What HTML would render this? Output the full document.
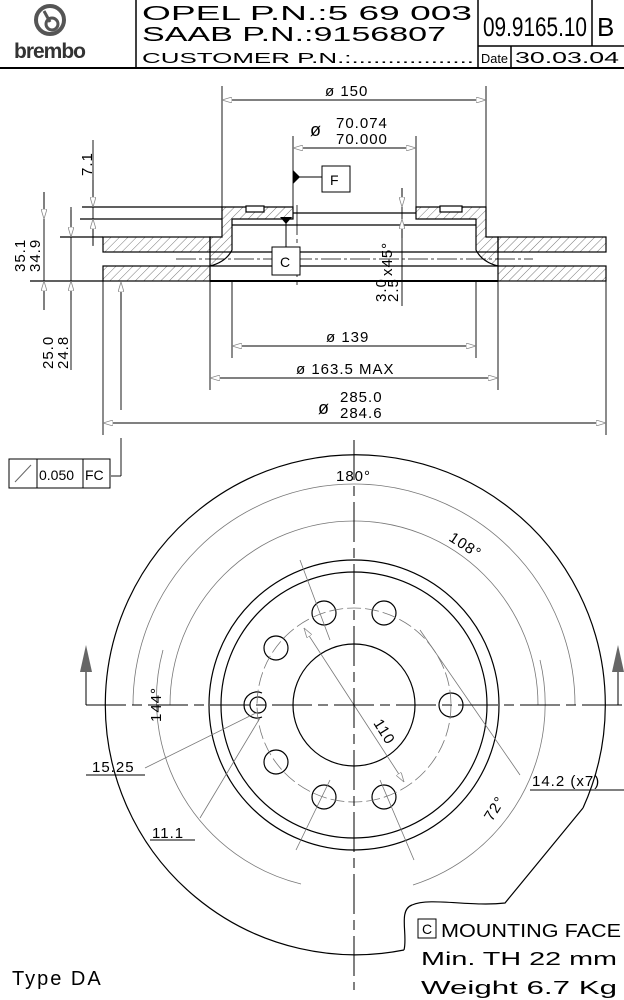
<!DOCTYPE html>
<html><head><meta charset="utf-8">
<style>
html,body{margin:0;padding:0;background:#fff;}
svg{display:block;font-family:"Liberation Sans",sans-serif;}
</style></head>
<body>
<svg width="624" height="1000" viewBox="0 0 624 1000" xmlns="http://www.w3.org/2000/svg">
<defs>
<pattern id="h" width="6" height="6" patternUnits="userSpaceOnUse" patternTransform="rotate(45)">
<line x1="0" y1="0" x2="0" y2="6" stroke="#555" stroke-width="0.8"/>
</pattern>
<marker id="a" viewBox="0 0 10 6" refX="10" refY="3" markerWidth="10" markerHeight="6" orient="auto-start-reverse" markerUnits="userSpaceOnUse">
<path d="M0,0 L10,3 L0,6 Z" fill="#fff" stroke="#888" stroke-width="0.8"/>
</marker>
</defs>

<!-- HEADER -->
<g stroke="#000" stroke-width="1.5" fill="none">
<line x1="0" y1="68" x2="624" y2="68" stroke-width="2"/>
<line x1="136" y1="0" x2="136" y2="68"/>
<line x1="478" y1="0" x2="478" y2="68"/>
<line x1="592" y1="0" x2="592" y2="46"/>
<line x1="478" y1="46" x2="624" y2="46"/>
<line x1="511" y1="46" x2="511" y2="68"/>
</g>
<g>
<circle cx="50" cy="20" r="14" fill="none" stroke="#555" stroke-width="4"/>
<circle cx="52" cy="24" r="6" fill="none" stroke="#555" stroke-width="3"/>
<line x1="44" y1="11" x2="50" y2="22" stroke="#555" stroke-width="3"/>
<text x="14" y="58" font-size="21" font-weight="bold" fill="#333" letter-spacing="-1">brembo</text>
</g>
<g font-size="20" fill="#000">
<text x="142" y="20" textLength="330" lengthAdjust="spacingAndGlyphs">OPEL P.N.:5 69 003</text>
<text x="142" y="41" textLength="304" lengthAdjust="spacingAndGlyphs">SAAB P.N.:9156807</text>
</g>
<text x="142" y="63" font-size="15" textLength="332" lengthAdjust="spacingAndGlyphs">CUSTOMER P.N.:.................</text>
<text x="483" y="36" font-size="27" textLength="104" lengthAdjust="spacingAndGlyphs">09.9165.10</text>
<text x="597" y="36" font-size="26">B</text>
<text x="481" y="63" font-size="13" textLength="27" lengthAdjust="spacingAndGlyphs">Date</text>
<text x="515" y="63" font-size="16" textLength="104" lengthAdjust="spacingAndGlyphs">30.03.04</text>

<!-- SIDE VIEW -->
<g stroke="#000" stroke-width="1.2" fill="url(#h)">
<rect x="103" y="237" width="107" height="15"/>
<rect x="103" y="266" width="107" height="15"/>
<rect x="498" y="237" width="108" height="15"/>
<rect x="498" y="266" width="108" height="15"/>
<path d="M222,207 L293,207 L293,219 L232,219 L232,250 Q226,262 210,266 L210,237 L222,237 Z"/>
<path d="M416,207 L486,207 L486,237 L498,237 L498,266 Q482,262 476,250 L476,219 L416,219 Z"/>
</g>
<g stroke="#000" stroke-width="1.2" fill="none">
<line x1="210" y1="281" x2="498" y2="281" stroke-width="2"/>
<line x1="176" y1="259" x2="533" y2="259" stroke-width="0.8" stroke-dasharray="20,3,3,3"/>
<line x1="210" y1="252" x2="498" y2="252"/>
<line x1="210" y1="266" x2="498" y2="266"/>
<line x1="293" y1="213" x2="416" y2="213"/>
<line x1="232" y1="225" x2="476" y2="225"/>
<line x1="82" y1="207" x2="222" y2="207"/>
<line x1="80" y1="219" x2="222" y2="219"/>
<line x1="60" y1="237" x2="103" y2="237"/>
<line x1="30" y1="281" x2="103" y2="281"/>
<rect x="246" y="206" width="18" height="6" fill="#fff"/>
<rect x="440" y="206" width="22" height="6" fill="#fff"/>
<line x1="297" y1="205" x2="297" y2="285" stroke-dasharray="30,4,4,4" stroke-width="0.8"/>
</g>
<!-- extension & dim lines -->
<g stroke="#000" stroke-width="0.9" fill="none">
<line x1="222" y1="86" x2="222" y2="207"/>
<line x1="486" y1="86" x2="486" y2="207"/>
<line x1="222" y1="100" x2="486" y2="100" marker-start="url(#a)" marker-end="url(#a)"/>
<line x1="293" y1="136" x2="293" y2="207"/>
<line x1="416" y1="136" x2="416" y2="207"/>
<line x1="293" y1="148" x2="416" y2="148" marker-start="url(#a)" marker-end="url(#a)"/>
<line x1="232" y1="281" x2="232" y2="358"/>
<line x1="476" y1="281" x2="476" y2="358"/>
<line x1="232" y1="346" x2="476" y2="346" marker-start="url(#a)" marker-end="url(#a)"/>
<line x1="210" y1="281" x2="210" y2="390"/>
<line x1="498" y1="281" x2="498" y2="390"/>
<line x1="210" y1="378" x2="498" y2="378" marker-start="url(#a)" marker-end="url(#a)"/>
<line x1="103" y1="281" x2="103" y2="435"/>
<line x1="606" y1="281" x2="606" y2="435"/>
<line x1="103" y1="423" x2="606" y2="423" marker-start="url(#a)" marker-end="url(#a)"/>
<line x1="93" y1="140" x2="93" y2="246"/>
<line x1="93" y1="180" x2="93" y2="207" marker-end="url(#a)"/>
<line x1="93" y1="245" x2="93" y2="219" marker-end="url(#a)"/>
<line x1="44" y1="192" x2="44" y2="310"/>
<line x1="44" y1="192" x2="44" y2="219" marker-end="url(#a)"/>
<line x1="44" y1="310" x2="44" y2="281" marker-end="url(#a)"/>
<line x1="71" y1="207" x2="71" y2="370"/>
<line x1="71" y1="210" x2="71" y2="237" marker-end="url(#a)"/>
<line x1="71" y1="300" x2="71" y2="281" marker-end="url(#a)"/>
<line x1="121" y1="284" x2="121" y2="410"/>
<line x1="121" y1="310" x2="121" y2="282" marker-end="url(#a)"/>
<line x1="121" y1="438" x2="121" y2="476"/>
<line x1="111" y1="476" x2="121" y2="476"/>
<line x1="402" y1="188" x2="402" y2="306"/>
<line x1="402" y1="188" x2="402" y2="207" marker-end="url(#a)"/>
<line x1="402" y1="238" x2="402" y2="219" marker-end="url(#a)"/>
</g>
<!-- F and C datums -->
<path d="M293,170 L300,177 L293,184 Z" fill="#000"/>
<line x1="293" y1="177" x2="322" y2="177" stroke="#000"/>
<rect x="322" y="166" width="28" height="26" fill="#fff" stroke="#000"/>
<text x="330" y="185" font-size="14">F</text>
<path d="M280,217 L292,217 L286,224 Z" fill="#000"/>
<line x1="286" y1="222" x2="286" y2="247" stroke="#000"/>
<rect x="272" y="247" width="28" height="28" fill="#fff" stroke="#000"/>
<text x="280" y="267" font-size="14">C</text>

<g font-size="15" fill="#000" letter-spacing="1">
<text x="325" y="96">ø 150</text>
<text x="310" y="136" font-size="18">ø</text>
<text x="336" y="128">70.074</text>
<text x="336" y="144">70.000</text>
<text x="326" y="342">ø 139</text>
<text x="296" y="374">ø 163.5 MAX</text>
<text x="318" y="414" font-size="18">ø</text>
<text x="340" y="402">285.0</text>
<text x="340" y="418">284.6</text>
<text transform="translate(92,176) rotate(-90)">7.1</text>
<text transform="translate(25,272) rotate(-90)">35.1</text>
<text transform="translate(40,272) rotate(-90)">34.9</text>
<text transform="translate(53,369) rotate(-90)">25.0</text>
<text transform="translate(68,369) rotate(-90)">24.8</text>
<text transform="translate(386,302) rotate(-90)">3.0</text>
<text transform="translate(398,302) rotate(-90)">2.5</text>
<text transform="translate(392,276) rotate(-90)">x45°</text>
</g>
<!-- tolerance frame -->
<g stroke="#000" fill="none" stroke-width="1">
<rect x="9" y="459" width="101" height="29"/>
<line x1="37" y1="459" x2="37" y2="488"/>
<line x1="83" y1="459" x2="83" y2="488"/>
<line x1="15" y1="482" x2="31" y2="465" stroke="#666"/>
</g>
<text x="39" y="480" font-size="14">0.050</text>
<text x="85" y="480" font-size="14">FC</text>

<!-- FRONT VIEW -->
<g fill="none" stroke="#000" stroke-width="1.2">
<path d="M404,950 A250,250 0 1 1 583,808"/>
<path d="M404,950 C408,935 398,910 412,905 C430,897 470,907 505,903 L583,808"/>
<circle cx="354" cy="705" r="145"/>
<circle cx="354" cy="705" r="133"/>
<circle cx="354" cy="705" r="61"/>
<circle cx="324" cy="613" r="12"/><circle cx="384" cy="613" r="12"/>
<circle cx="276" cy="648" r="12"/><circle cx="276" cy="762" r="12"/>
<circle cx="324" cy="797" r="12"/><circle cx="384" cy="797" r="12"/>
<circle cx="451" cy="705" r="12"/>
<circle cx="258" cy="705" r="8"/>
<path d="M262,693 A13,13 0 1 0 262,717"/>
</g>
<g fill="none" stroke="#777" stroke-width="0.8">
<circle cx="354" cy="705" r="97" stroke-dasharray="14,4"/>
<path d="M133,705 A221,221 0 0 1 575,705"/>
<path d="M170,705 A184,184 0 0 1 538,705"/>
<path d="M163,650 A190,190 0 0 0 301,884"/>
<path d="M540,660 A190,190 0 0 1 413,885"/>
<line x1="354" y1="705" x2="304" y2="628" marker-end="url(#a)"/>
<line x1="354" y1="705" x2="404" y2="782" marker-end="url(#a)"/>
<line x1="300" y1="560" x2="330" y2="640"/>
<line x1="420" y1="630" x2="520" y2="775"/>
<line x1="145" y1="768" x2="258" y2="712"/>
<line x1="200" y1="818" x2="260" y2="718"/>
<line x1="296" y1="850" x2="330" y2="780"/>
<line x1="414" y1="860" x2="380" y2="780"/>
</g>
<g stroke="#000" stroke-width="1" fill="none">
<line x1="86" y1="705" x2="622" y2="705" stroke-dasharray="40,6,10,6"/>
<line x1="354" y1="440" x2="354" y2="990" stroke-dasharray="40,6,10,6"/>
<line x1="86" y1="705" x2="86" y2="670"/>
<line x1="618" y1="705" x2="618" y2="670"/>
<line x1="86" y1="775" x2="145" y2="775"/>
<line x1="150" y1="840" x2="195" y2="840"/>
<line x1="530" y1="790" x2="624" y2="790"/>
</g>
<path d="M86,645 L80,672 L92,672 Z" fill="#666"/>
<path d="M618,645 L612,672 L624,672 Z" fill="#666"/>
<g font-size="15" fill="#000" letter-spacing="1">
<text x="336" y="481">180°</text>
<text transform="translate(448,540) rotate(33)">108°</text>
<text transform="translate(161,722) rotate(-90)">144°</text>
<text transform="translate(373,723) rotate(58)">110</text>
<text transform="translate(492,822) rotate(-58)">72°</text>
<text x="92" y="772">15.25</text>
<text x="152" y="838">11.1</text>
<text x="532" y="786">14.2 (x7)</text>
</g>
<rect x="418" y="919" width="18" height="19" fill="none" stroke="#000"/>
<text x="422" y="934" font-size="14">C</text>
<g font-size="18" fill="#000">
<text x="441" y="937" textLength="180" lengthAdjust="spacingAndGlyphs">MOUNTING FACE</text>
<text x="421" y="965" textLength="196" lengthAdjust="spacingAndGlyphs">Min. TH 22 mm</text>
<text x="421" y="994" textLength="196" lengthAdjust="spacingAndGlyphs">Weight 6.7 Kg</text>
<text x="12" y="985" font-size="20" letter-spacing="2">Type DA</text>
</g>
</svg>
</body></html>
